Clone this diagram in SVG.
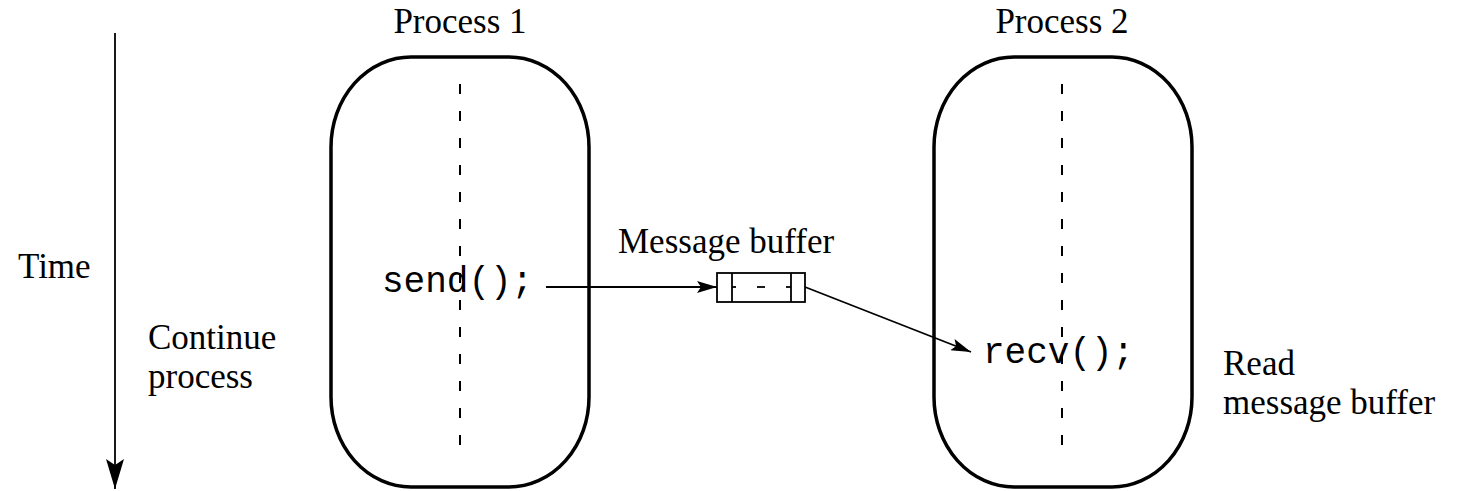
<svg xmlns="http://www.w3.org/2000/svg" width="1458" height="491" viewBox="0 0 1458 491">
  <style>
    .serif { font-family: "Liberation Serif", "Times New Roman", serif; font-size: 35px; fill: #000; }
    .mono { font-family: "Liberation Mono", "Courier New", monospace; font-size: 36px; fill: #000; }
    .proc { fill: #fff; stroke: #000; stroke-width: 3.5; }
    .life { stroke: #000; stroke-width: 2; stroke-dasharray: 10 17; }
    .conn { stroke: #000; stroke-width: 1.8; fill: none; }
  </style>
  <defs>
    <marker id="head" viewBox="0 0 20 12" refX="20" refY="6" markerWidth="20" markerHeight="12" markerUnits="userSpaceOnUse" orient="auto">
      <path d="M0,0 L20,6 L0,12 L4,6 Z" fill="#000"/>
    </marker>
    <marker id="timehead" viewBox="0 0 30 18" refX="30" refY="9" markerWidth="30" markerHeight="18" markerUnits="userSpaceOnUse" orient="auto">
      <path d="M0,0 L30,9 L0,18 L6,9 Z" fill="#000"/>
    </marker>
  </defs>

  <!-- time axis -->
  <g id="time">
    <line x1="115" y1="33" x2="115" y2="489" class="conn" stroke-width="2.5" marker-end="url(#timehead)"/>
    <text x="18" y="278" class="serif">Time</text>
    <text x="148" y="349" class="serif">Continue</text>
    <text x="148" y="388" class="serif">process</text>
  </g>

  <!-- process 1 -->
  <g id="process1">
    <text x="460" y="33" class="serif" text-anchor="middle">Process 1</text>
    <rect x="331" y="57" width="258" height="430" rx="80" ry="90" class="proc"/>
    <line x1="460" y1="84" x2="460" y2="462" class="life"/>
    <text x="382" y="292" class="mono">send();</text>
  </g>

  <!-- process 2 -->
  <g id="process2">
    <text x="1062" y="33" class="serif" text-anchor="middle">Process 2</text>
    <rect x="934" y="57" width="258" height="430" rx="80" ry="90" class="proc"/>
    <line x1="1062" y1="84" x2="1062" y2="462" class="life"/>
    <text x="983" y="363" class="mono">recv();</text>
    <text x="1223" y="375" class="serif">Read</text>
    <text x="1223" y="414" class="serif">message buffer</text>
  </g>

  <!-- message buffer -->
  <g id="buffer">
    <text x="618" y="253" class="serif">Message buffer</text>
    <rect x="717" y="273" width="88" height="29" fill="#fff" stroke="#000" stroke-width="1.8"/>
    <line x1="732" y1="273" x2="732" y2="302" stroke="#000" stroke-width="1.8"/>
    <line x1="791" y1="273" x2="791" y2="302" stroke="#000" stroke-width="1.8"/>
    <line x1="732" y1="287" x2="736" y2="287" stroke="#000" stroke-width="1.8"/>
    <line x1="757" y1="287" x2="765" y2="287" stroke="#000" stroke-width="1.8"/>
    <line x1="786" y1="287" x2="791" y2="287" stroke="#000" stroke-width="1.8"/>
  </g>

  <!-- connectors -->
  <g id="connectors">
    <line x1="546" y1="287" x2="717" y2="287" class="conn" marker-end="url(#head)"/>
    <line x1="805" y1="287" x2="971" y2="352" class="conn" marker-end="url(#head)"/>
  </g>
</svg>
